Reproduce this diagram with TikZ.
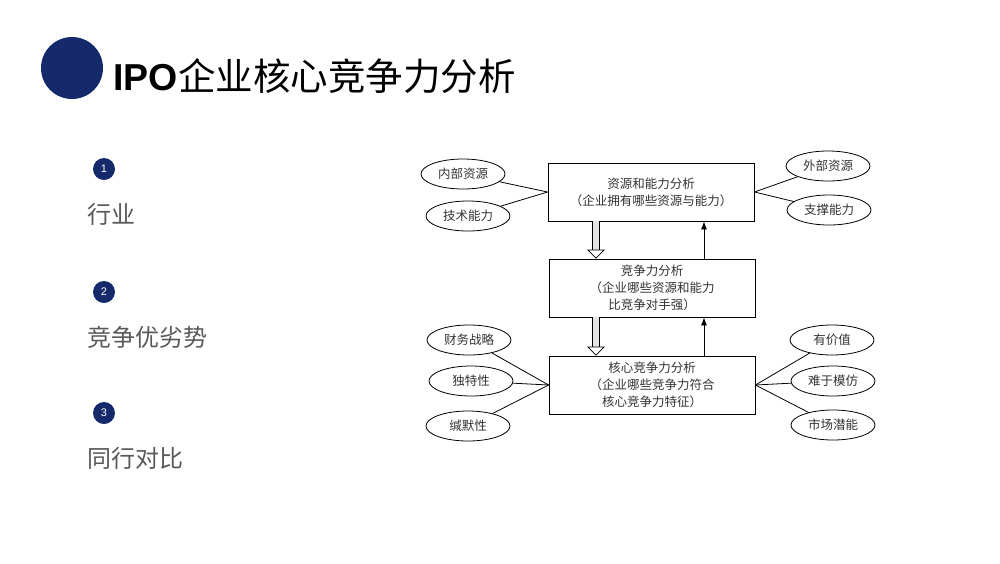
\documentclass[tikz,border=0pt]{standalone}
\usepackage{fontspec}
\setmainfont{Liberation Sans}
\newfontfamily\cjk{Noto Sans CJK SC}
\usetikzlibrary{arrows.meta, positioning, shapes.geometric}
\definecolor{navy}{HTML}{15296B}
\definecolor{txtgray}{HTML}{595959}
\tikzset{
    box/.style={draw, line width=0.8pt, minimum width=206pt, minimum height=58pt, align=center, font=\cjk\fontsize{12.5}{17}\selectfont, text=black!80},
    oval/.style={draw, ellipse, line width=0.8pt, minimum width=84pt, minimum height=30pt, inner sep=0pt, font=\cjk\fontsize{12.5}{14}\selectfont, text=black!80},
    link/.style={line width=0.8pt},
    hollow/.style={double=gray!20, double distance=6pt, line width=0.7pt, -{Triangle[open, length=9pt, width=18pt]}},
    uparrow/.style={line width=0.8pt, -{Latex[length=8pt, width=6pt]}},
    numdot/.style={circle, fill=navy, minimum size=22pt, inner sep=0pt, text=white, font=\fontsize{11}{11}\selectfont},
    item/.style={anchor=west, font=\cjk\fontsize{24}{24}\selectfont, text=txtgray}
}
\begin{document}
\begin{tikzpicture}[x=1pt, y=-1pt]
        \useasboundingbox (0,0) rectangle (1000,563);
        % heading
        \fill[navy] (72,68) circle (31);
        \node[anchor=west, font=\fontsize{37.5}{38}\selectfont] (title) at (110,76) {\textbf{IPO}{\cjk 企业核心竞争力分析}};
        % list on the left
        \node[numdot] (n1) at (104,169) {1};
        \node[item] (t1) at (84,214) {行业};
        \node[numdot] (n2) at (104,292) {2};
        \node[item] (t2) at (84,337) {竞争优劣势};
        \node[numdot] (n3) at (104,413) {3};
        \node[item] (t3) at (84,458) {同行对比};
        % boxes
        \node[box] (res) at (651,192) {资源和能力分析\\（企业拥有哪些资源与能力）};
        \node[box] (comp) at (652,288) {竞争力分析\\（企业哪些资源和能力\\比竞争对手强）};
        \node[box] (core) at (652,385) {核心竞争力分析\\（企业哪些竞争力符合\\核心竞争力特征）};
        % ovals
        \node[oval] (in) at (463,174) {内部资源};
        \node[oval] (tech) at (468,216) {技术能力};
        \node[oval] (out) at (828,166) {外部资源};
        \node[oval] (sup) at (829,210) {支撑能力};
        \node[oval] (fin) at (469,340) {财务战略};
        \node[oval] (uniq) at (471,381) {独特性};
        \node[oval] (tacit) at (468,426) {缄默性};
        \node[oval] (val) at (832,340) {有价值};
        \node[oval] (hard) at (833,381) {难于模仿};
        \node[oval] (mkt) at (833,425) {市场潜能};
        \foreach \o in {in, tech}
            \draw[link] (\o) -- (res.west);
        \foreach \o in {out, sup}
            \draw[link] (\o) -- (res.east);
        \foreach \o in {fin, uniq, tacit}
            \draw[link] (\o) -- (core.west);
        \foreach \o in {val, hard, mkt}
            \draw[link] (\o) -- (core.east);
        % arrows between boxes
        \draw[hollow] (res.south -| 596,0) -- (comp.north -| 596,0);
        \draw[hollow] (comp.south -| 596,0) -- (core.north -| 596,0);
        \draw[uparrow] (comp.north -| 704,0) -- (res.south -| 704,0);
        \draw[uparrow] (core.north -| 704,0) -- (comp.south -| 704,0);
    \end{tikzpicture}
\end{document}
